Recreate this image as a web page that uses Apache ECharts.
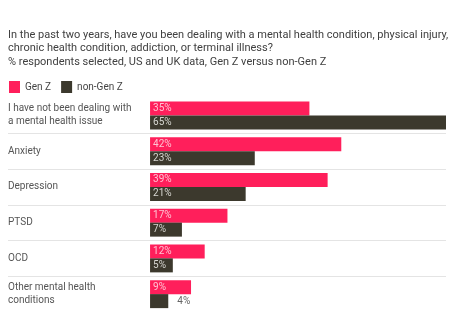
<!DOCTYPE html>
<html><head><meta charset="utf-8">
<script src="https://cdn.jsdelivr.net/npm/echarts@6/dist/echarts.min.js"></script>
<style>html,body{margin:0;padding:0;background:#fff}#c{width:472px;height:326px}</style>
</head><body><div id="c"></div>
<script>
const categories = ["I have not been dealing with\na mental health issue", "Anxiety", "Depression", "PTSD", "OCD", "Other mental health\nconditions"];
const genZ = [35, 42, 39, 17, 12, 9];
const nonGenZ = [65, 23, 21, 7, 5, 4];
const seriesNames = ["Gen Z", "non-Gen Z"];
const titleText = "In the past two years, have you been dealing with a mental health condition, physical injury,\nchronic health condition, addiction, or terminal illness?\n% respondents selected, US and UK data, Gen Z versus non-Gen Z";

const PINK = "#ff1f5b", DARK = "#3c392d";
const chart = echarts.init(document.getElementById('c'));
const font = "Roboto, 'Noto Sans', sans-serif";
function labelCfg(color){
  return {show:true, position:'insideLeft', offset:[-2,0], formatter:'{c}%', color:color, fontSize:10, fontFamily:font};
}
chart.setOption({
  animation:false,
  textStyle:{fontFamily:font},
  title:{text:titleText, left:8, top:28, padding:0, textStyle:{fontSize:11, fontWeight:'normal', color:'#404040', lineHeight:13.5, fontFamily:font}},
  legend:{left:9, top:81, padding:0, icon:'rect', itemWidth:11, itemHeight:12, itemGap:10, textStyle:{fontSize:10, color:'#444', fontFamily:font}, data:seriesNames},
  grid:{left:8, right:26, top:97.5, bottom:14},
  xAxis:{type:'value', min:-31.2, max:65, show:false},
  yAxis:{type:'category', data:categories, inverse:true,
    axisLine:{show:false}, axisTick:{show:false},
    axisLabel:{inside:true, margin:0, color:'#555', fontSize:10, lineHeight:13, fontFamily:font},
    splitLine:{show:true, showMinLine:false, showMaxLine:false, lineStyle:{color:'#e4e4e4', width:1}}},
  series:[
    {name:seriesNames[0], type:'bar', data:genZ, barWidth:14, barGap:'0%', itemStyle:{color:PINK}, label:labelCfg('#ffc2d2')},
    {name:seriesNames[1], type:'bar', barWidth:14, itemStyle:{color:DARK},
     data:nonGenZ.map(v => v < 5 ? {value:v, label:{position:'right', offset:[4,0], color:'#666'}} : v),
     label:labelCfg('#d6d6d0')}
  ]
});
</script></body></html>
